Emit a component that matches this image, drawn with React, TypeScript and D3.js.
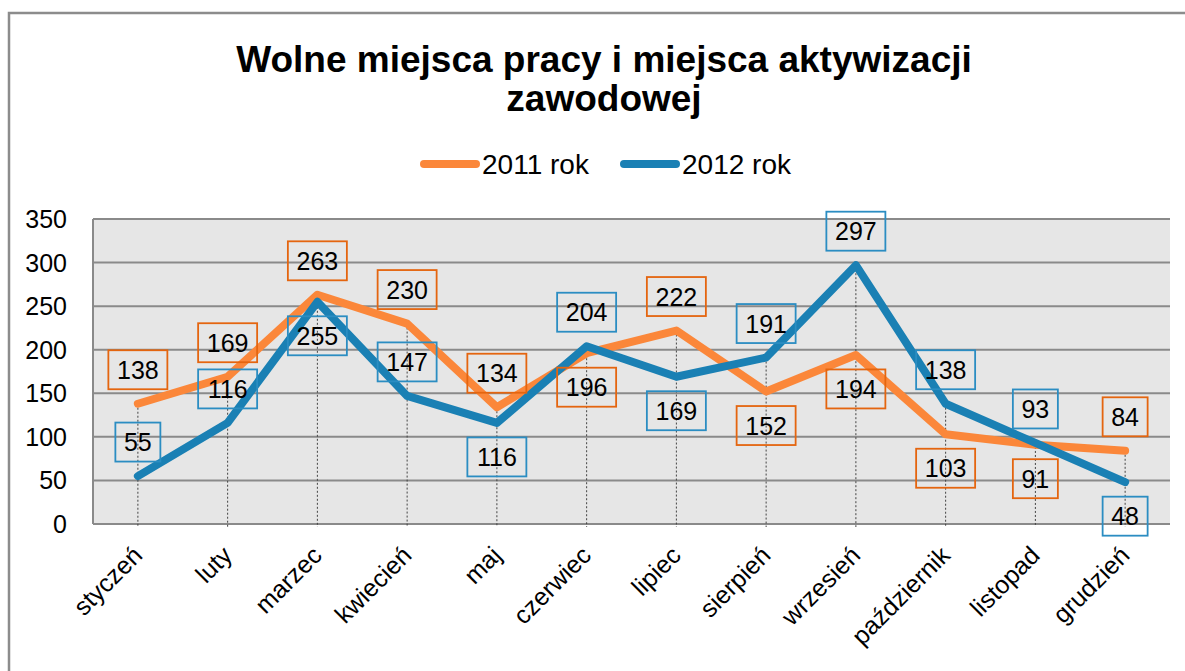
import React from "react";
import * as d3 from "d3";

const months = ["styczeń","luty","marzec","kwiecień","maj","czerwiec","lipiec","sierpień","wrzesień","październik","listopad","grudzień"];
const values2011 = [138,169,263,230,134,196,222,152,194,103,91,84];
const values2012 = [55,116,255,147,116,204,169,191,297,138,93,48];
const labelSide2011 = [-1,-1,-1,-1,-1,1,-1,1,1,1,1,-1];
const labelSide2012 = [-1,-1,1,-1,1,-1,1,-1,-1,-1,-1,1];
const yTicks = [0,50,100,150,200,250,300,350];
const seriesNames = ["2011 rok","2012 rok"];

const W = 1185, H = 671;
const plot = { x0: 93, x1: 1170, y0: 219, y1: 524 };
const ORANGE = "#fb873a";
const BLUE = "#1a80b4";
const ORANGE_BOX = "#e4650f";
const BLUE_BOX = "#2b8dc2";
const FONT = "'Liberation Sans', Arial, sans-serif";

export default function App() {
  const x = d3.scaleBand<string>().domain(months).range([plot.x0, plot.x1]).padding(0);
  const cx = (m: string) => (x(m) as number) + x.bandwidth() / 2;
  const y = d3.scaleLinear().domain([0, 350]).range([plot.y1, plot.y0]);
  const line = d3.line<number>().x((_, i) => cx(months[i])).y((v) => y(v));

  const series = [
    { name: seriesNames[0], vals: values2011, side: labelSide2011, color: ORANGE, box: ORANGE_BOX },
    { name: seriesNames[1], vals: values2012, side: labelSide2012, color: BLUE, box: BLUE_BOX },
  ];

  return (
    <svg width={W} height={H} style={{ position: "absolute", left: 0, top: 0, background: "#fff" }} fontFamily={FONT}>
      {/* outer border */}
      <path d={`M9,${H} L9,13 L${W},13`} fill="none" stroke="#8c8c8c" strokeWidth={2.5} />
      {/* title */}
      <text x={604} y={72} textAnchor="middle" fontSize={37} fontWeight="bold">Wolne miejsca pracy i miejsca aktywizacji</text>
      <text x={604} y={111} textAnchor="middle" fontSize={37} fontWeight="bold">zawodowej</text>
      {/* legend */}
      {series.map((s, i) => {
        const lx = 420 + i * 200;
        return (
          <g key={s.name}>
            <line x1={lx + 4} x2={lx + 56} y1={164} y2={164} stroke={s.color} strokeWidth={8} strokeLinecap="round" />
            <text x={lx + 62} y={174} fontSize={28}>{s.name}</text>
          </g>
        );
      })}
      {/* plot background */}
      <rect x={plot.x0} y={plot.y0} width={plot.x1 - plot.x0} height={plot.y1 - plot.y0} fill="#e6e6e6" />
      {yTicks.map((t) => (
        <g key={t}>
          {t > 0 && <line x1={plot.x0} x2={plot.x1} y1={y(t)} y2={y(t)} stroke="#8a8a8a" strokeWidth={2} />}
          <text x={67} y={y(t)} dy="0.36em" textAnchor="end" fontSize={25}>{t}</text>
        </g>
      ))}
      <line x1={plot.x0} x2={plot.x0} y1={plot.y0} y2={plot.y1} stroke="#8a8a8a" strokeWidth={2} />
      <line x1={plot.x0} x2={plot.x1} y1={plot.y1} y2={plot.y1} stroke="#8a8a8a" strokeWidth={2} />
      {/* drop lines */}
      {months.map((m, i) => (
        <line key={m} x1={cx(m)} x2={cx(m)} y1={y(Math.max(values2011[i], values2012[i]))} y2={plot.y1 + 3}
          stroke="#444" strokeWidth={1} strokeDasharray="2,2" />
      ))}
      {/* series lines */}
      {series.map((s) => (
        <path key={s.name} d={line(s.vals) as string} fill="none" stroke={s.color} strokeWidth={8}
          strokeLinecap="round" strokeLinejoin="round" />
      ))}
      {/* data labels */}
      {series.map((s) => (
        <g key={s.name + "l"}>
          {s.vals.map((v, i) => {
            const px = cx(months[i]);
            const py = y(v) + s.side[i] * 34;
            const w = String(v).length * 14 + 17;
            return (
              <g key={i}>
                <rect x={px - w / 2} y={py - 19.5} width={w} height={39} fill="none" stroke={s.box} strokeWidth={1.8} />
                <text x={px} y={py} dy="0.36em" textAnchor="middle" fontSize={25}>{v}</text>
              </g>
            );
          })}
        </g>
      ))}
      {/* category labels */}
      {months.map((m) => (
        <text key={m} transform={`translate(${cx(m) + 6},${plot.y1 + 33}) rotate(-45)`} textAnchor="end" fontSize={25}>{m}</text>
      ))}
    </svg>
  );
}
